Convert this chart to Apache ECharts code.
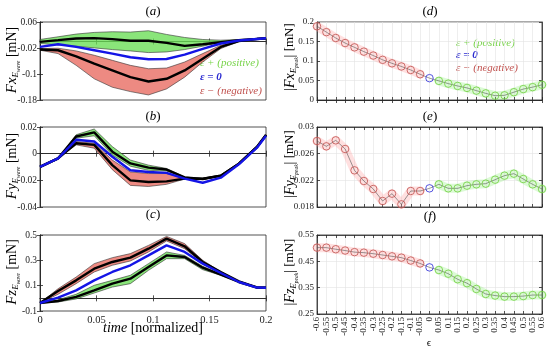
<!DOCTYPE html>
<html><head><meta charset="utf-8">
<script src="https://cdn.jsdelivr.net/npm/echarts@6/dist/echarts.min.js"></script>
<style>html,body{margin:0;padding:0;background:#fff}#c{width:550px;height:349px}</style>
</head><body><div id="c"></div>
<script>
// ---------- data ----------
const time = [0, 0.016, 0.032, 0.048, 0.064, 0.08, 0.096, 0.112, 0.128, 0.144, 0.16, 0.176, 0.192, 0.2];

// panel (a) Fx
const aPosUpper = [0.0062, 0.0145, 0.0228, 0.0279, 0.030, 0.029, 0.0331, 0.0217, 0.0124, 0.0062, 0.0041, 0.0062, 0.0090, 0.010];
const aPosMean  = [-0.001, 0.0041, 0.0093, 0.0103, 0.0072, 0.0021, 0.0021, -0.0041, -0.0134, -0.0083, -0.0021, 0.0041, 0.0080, 0.010];
const aPosLower = [-0.0062, -0.0103, -0.0145, -0.0197, -0.0248, -0.029, -0.0341, -0.0321, -0.0248, -0.0145, -0.0021, 0.0031, 0.0078, 0.010];
const aZero     = [-0.0166, -0.0083, -0.0166, -0.0269, -0.0372, -0.0486, -0.0548, -0.0538, -0.0403, -0.0228, -0.0062, 0.0031, 0.0078, 0.010];
const aNegUpper = [-0.0217, -0.0207, -0.029, -0.0424, -0.0579, -0.0734, -0.0838, -0.0817, -0.0631, -0.0372, -0.0114, 0.0021, 0.0078, 0.010];
const aNegMean  = [-0.0248, -0.0269, -0.0455, -0.0683, -0.089, -0.1097, -0.1231, -0.1148, -0.089, -0.0528, -0.0166, 0.001, 0.0078, 0.010];
const aNegLower = [-0.0269, -0.0372, -0.0734, -0.1148, -0.1407, -0.1541, -0.1645, -0.1459, -0.1097, -0.0631, -0.0217, 0.0, 0.0078, 0.010];

// panel (b) Fy
const bPosUpper = [-0.0099, -0.0035, 0.0142, 0.0185, 0.0053, -0.0048, -0.0086, -0.0111, -0.0175, -0.0187, -0.0162, -0.0073, 0.0053, 0.0142];
const bPosMean  = [-0.0099, -0.0035, 0.0129, 0.016, 0.0015, -0.0073, -0.0105, -0.0119, -0.0178, -0.019, -0.0165, -0.0075, 0.005, 0.014];
const bPosLower = [-0.0099, -0.0035, 0.0116, 0.0134, -0.001, -0.0094, -0.0125, -0.013, -0.018, -0.0192, -0.0168, -0.0078, 0.0048, 0.0138];
const bZero     = [-0.0099, -0.0035, 0.0104, 0.0091, -0.0023, -0.0124, -0.0137, -0.0144, -0.0187, -0.0218, -0.018, -0.008, 0.0045, 0.0135];
const bNegUpper = [-0.0099, -0.0035, 0.0091, 0.0078, -0.0048, -0.0137, -0.0149, -0.0149, -0.0185, -0.019, -0.0165, -0.0075, 0.005, 0.014];
const bNegMean  = [-0.0099, -0.0035, 0.0078, 0.0066, -0.0086, -0.020, -0.0213, -0.0208, -0.0187, -0.0188, -0.0165, -0.0075, 0.005, 0.014];
const bNegLower = [-0.0099, -0.0035, 0.0066, 0.0041, -0.012, -0.0238, -0.0246, -0.023, -0.019, -0.0192, -0.0168, -0.0078, 0.0048, 0.0138];

// panel (c) Fz
const cPosUpper = [-0.037, -0.011, 0.032, 0.103, 0.142, 0.182, 0.274, 0.366, 0.339, 0.253, 0.19, 0.129, 0.085, 0.083];
const cPosMean  = [-0.037, -0.021, 0.011, 0.063, 0.116, 0.155, 0.247, 0.339, 0.326, 0.242, 0.187, 0.129, 0.085, 0.083];
const cPosLower = [-0.037, -0.029, -0.005, 0.042, 0.089, 0.116, 0.221, 0.313, 0.313, 0.226, 0.182, 0.127, 0.084, 0.083];
const cZero     = [-0.037, 0.005, 0.063, 0.142, 0.208, 0.261, 0.339, 0.418, 0.366, 0.274, 0.2, 0.129, 0.085, 0.083];
const cNegUpper = [-0.037, 0.076, 0.168, 0.274, 0.321, 0.353, 0.418, 0.489, 0.432, 0.30, 0.21, 0.134, 0.086, 0.083];
const cNegMean  = [-0.037, 0.058, 0.142, 0.234, 0.287, 0.321, 0.392, 0.471, 0.411, 0.287, 0.208, 0.134, 0.086, 0.083];
const cNegLower = [-0.037, 0.032, 0.116, 0.208, 0.261, 0.295, 0.366, 0.453, 0.392, 0.279, 0.205, 0.132, 0.085, 0.083];

// right panels: epsilon categories and peak values
const eps = ['-0.6','-0.55','-0.5','-0.45','-0.4','-0.35','-0.3','-0.25','-0.2','-0.15','-0.1','-0.05','0',
             '0.05','0.1','0.15','0.2','0.25','0.3','0.35','0.4','0.45','0.5','0.55','0.6'];
const dPeak = [0.189, 0.174, 0.159, 0.146, 0.135, 0.124, 0.114, 0.103, 0.094, 0.086, 0.077, 0.066, 0.056,
               0.049, 0.042, 0.036, 0.031, 0.024, 0.017, 0.011, 0.012, 0.020, 0.028, 0.033, 0.039];
const ePeak = [0.0279, 0.0271, 0.0280, 0.0267, 0.0235, 0.0219, 0.0207, 0.0189, 0.0200, 0.0184, 0.0204, 0.0204, 0.0208,
               0.0214, 0.0208, 0.0208, 0.0212, 0.0214, 0.0215, 0.0221, 0.0227, 0.0230, 0.0222, 0.0214, 0.0207];
const fPeak = [0.502, 0.502, 0.496, 0.491, 0.485, 0.483, 0.479, 0.474, 0.469, 0.464, 0.453, 0.442, 0.427,
               0.417, 0.403, 0.382, 0.367, 0.345, 0.326, 0.320, 0.316, 0.316, 0.318, 0.322, 0.322];

// axis ticks
const leftTicks = [
  {min: -0.18, max: 0.06, interval: 0.08},
  {min: -0.04, max: 0.02, interval: 0.02},
  {min: -0.1, max: 0.5, interval: 0.2}
];
const rightTicks = [
  {min: 0, max: 0.2, interval: 0.05},
  {min: 0.018, max: 0.03, interval: 0.004},
  {min: 0.25, max: 0.55, interval: 0.1}
];

// ---------- styling ----------
const SERIF = 'Liberation Serif';
const AX = '#262626';
const GREEN_FILL = 'rgba(105,222,85,0.78)';
const RED_FILL = 'rgba(232,105,95,0.78)';
const BLUE = '#1414e6';
const PT_RED = '#c0504d', PT_GREEN = '#6fcf3c', PT_BLUE = '#2a2ad8';
const TXT_GREEN = '#78d44a', TXT_RED = '#c0504d', TXT_BLUE = '#2828d0';

const chart = echarts.init(document.getElementById('c'), null, {renderer: 'canvas'});

const leftGrids = [
  {left: 40, top: 22, width: 226, height: 78},
  {left: 40, top: 127, width: 226, height: 80},
  {left: 40, top: 235, width: 226, height: 76}
];
const rightGrids = [
  {left: 317, top: 22, width: 225, height: 78},
  {left: 317, top: 127, width: 225, height: 80},
  {left: 317, top: 235, width: 225, height: 79}
];
const grids = leftGrids.concat(rightGrids).map(g => Object.assign({show: true, borderColor: AX, borderWidth: 0.8, containLabel: false}, g));

const fmt = v => String(+(+v).toFixed(4));
const tickStyle = {show: true, inside: true, length: 3, lineStyle: {color: AX, width: 0.8}};
const lineStyleAx = {show: true, lineStyle: {color: AX, width: 0.8}};

const xAxes = [], yAxes = [];
for (let i = 0; i < 3; i++) {
  xAxes.push({
    type: 'value', gridIndex: i, min: 0, max: 0.2, interval: 0.05,
    axisLine: lineStyleAx, axisTick: tickStyle,
    axisLabel: {show: i === 2, color: '#222', fontFamily: SERIF, fontSize: 10.5, margin: 4, formatter: fmt},
    splitLine: {show: false}
  });
  yAxes.push(Object.assign({
    type: 'value', gridIndex: i,
    axisLine: lineStyleAx, axisTick: tickStyle,
    axisLabel: {color: '#222', fontFamily: SERIF, fontSize: 9.5, margin: 3, formatter: fmt},
    splitLine: {show: false}
  }, leftTicks[i]));
}
for (let i = 0; i < 3; i++) {
  xAxes.push({
    type: 'category', gridIndex: 3 + i, data: eps, boundaryGap: false,
    axisLine: lineStyleAx,
    axisTick: Object.assign({interval: 0}, tickStyle),
    axisLabel: {show: i === 2, interval: 0, rotate: 90, color: '#222', fontFamily: SERIF, fontSize: 9, margin: 3},
    splitLine: {show: true, interval: 0, lineStyle: {color: '#e2e2e2', width: 0.6}}
  });
  yAxes.push(Object.assign({
    type: 'value', gridIndex: 3 + i,
    axisLine: lineStyleAx, axisTick: tickStyle,
    axisLabel: {color: '#222', fontFamily: SERIF, fontSize: 9, margin: 3, formatter: fmt},
    splitLine: {show: true, lineStyle: {color: '#e2e2e2', width: 0.6}}
  }, rightTicks[i]));
}
// mirrored box ticks (top / right), no labels
for (let i = 0; i < 3; i++) {
  xAxes.push({type: 'value', gridIndex: i, position: 'top', min: 0, max: 0.2, interval: 0.05,
    axisLine: lineStyleAx, axisTick: tickStyle, axisLabel: {show: false}, splitLine: {show: false}});
  yAxes.push(Object.assign({type: 'value', gridIndex: i, position: 'right',
    axisLine: lineStyleAx, axisTick: tickStyle, axisLabel: {show: false}, splitLine: {show: false}}, leftTicks[i]));
}
for (let i = 0; i < 3; i++) {
  xAxes.push({type: 'category', gridIndex: 3 + i, position: 'top', data: eps, boundaryGap: false,
    axisLine: lineStyleAx, axisTick: Object.assign({interval: 0}, tickStyle), axisLabel: {show: false}, splitLine: {show: false}});
  yAxes.push(Object.assign({type: 'value', gridIndex: 3 + i, position: 'right',
    axisLine: lineStyleAx, axisTick: tickStyle, axisLabel: {show: false}, splitLine: {show: false}}, rightTicks[i]));
}

function band(idx, upper, lower, fill) {
  return {
    type: 'custom', xAxisIndex: idx, yAxisIndex: idx, silent: true, z: 1,
    data: [[time[0], upper[0]]],
    renderItem: function (params, api) {
      const pts = [];
      for (let k = 0; k < time.length; k++) pts.push(api.coord([time[k], upper[k]]));
      for (let k = time.length - 1; k >= 0; k--) pts.push(api.coord([time[k], lower[k]]));
      return {type: 'polygon', shape: {points: pts}, style: {fill: fill, stroke: '#333', lineWidth: 0.6}};
    }
  };
}
function tline(idx, arr, color, w, z) {
  return {
    type: 'line', xAxisIndex: idx, yAxisIndex: idx, silent: true, z: z || 3,
    data: time.map((t, k) => [t, arr[k]]), showSymbol: false, symbol: 'none',
    lineStyle: {color: color, width: w}, animation: false
  };
}

const series = [];
const leftSets = [
  [aPosUpper, aPosMean, aPosLower, aZero, aNegUpper, aNegMean, aNegLower],
  [bPosUpper, bPosMean, bPosLower, bZero, bNegUpper, bNegMean, bNegLower],
  [cPosUpper, cPosMean, cPosLower, cZero, cNegUpper, cNegMean, cNegLower]
];
leftSets.forEach((s, i) => {
  series.push(band(i, s[4], s[6], RED_FILL));
  series.push(band(i, s[0], s[2], GREEN_FILL));
  series.push(tline(i, s[5], '#000', 2.4, 3));
  series.push(tline(i, s[1], '#000', 2.4, 3));
  series.push(tline(i, s[3], BLUE, 2.4, 4));
});

const rightSets = [dPeak, ePeak, fPeak];
rightSets.forEach((arr, i) => {
  const idx = 3 + i;
  const neg = arr.map((v, k) => k <= 11 ? v : null);
  const pos = arr.map((v, k) => k >= 13 ? v : null);
  const zer = arr.map((v, k) => k === 12 ? v : null);
  const base = {xAxisIndex: idx, yAxisIndex: idx, silent: true, animation: false};
  series.push(Object.assign({type: 'line', data: neg, showSymbol: false, symbol: 'none', z: 1,
    lineStyle: {color: 'rgba(255,160,160,0.32)', width: 9, cap: 'round', join: 'round'}}, base));
  series.push(Object.assign({type: 'line', data: pos, showSymbol: false, symbol: 'none', z: 1,
    lineStyle: {color: 'rgba(140,240,120,0.30)', width: 9, cap: 'round', join: 'round'}}, base));
  series.push(Object.assign({type: 'line', data: arr, showSymbol: false, symbol: 'none', z: 2,
    lineStyle: {color: '#555', width: 0.6}}, base));
  [[neg, PT_RED], [zer, PT_BLUE], [pos, PT_GREEN]].forEach(([d, c]) => {
    series.push(Object.assign({type: 'scatter', data: d, symbol: 'circle', symbolSize: 7.5, z: 3,
      itemStyle: {color: 'rgba(0,0,0,0)', borderColor: c, borderWidth: 1}}, base));
  });
});

// ---------- math-like text helpers ----------
const mctx = document.createElement('canvas').getContext('2d');
function fontStr(p) { return (p.i ? 'italic ' : '') + (p.b ? 'bold ' : '') + p.s + 'px "' + SERIF + '"'; }
function tw(p) { mctx.font = fontStr(p); return mctx.measureText(p.t).width; }
function mtext(parts, x, y, rot, anchor, color) {
  const ws = parts.map(tw);
  const total = ws.reduce((a, b) => a + b, 0);
  let off = anchor === 'left' ? 0 : -total / 2;
  const children = parts.map((p, k) => {
    const el = {type: 'text', x: off, y: p.dy || 0, silent: true,
      style: {text: p.t, fontSize: p.s, fontFamily: SERIF, fontStyle: p.i ? 'italic' : 'normal',
        fontWeight: p.b ? 'bold' : 'normal', fill: p.c || color || '#000',
        textAlign: 'left', textVerticalAlign: 'middle', align: 'left', verticalAlign: 'middle'}};
    off += ws[k];
    return el;
  });
  return {type: 'group', x: x, y: y, rotation: rot ? Math.PI / 2 : 0, children: children, silent: true};
}

const graphics = [];
// panel titles
[['a', 153, 12], ['b', 153, 117], ['c', 153, 215], ['d', 430, 12], ['e', 430, 117], ['f', 430, 217]].forEach(([l, x, y]) => {
  graphics.push(mtext([{t: '(', s: 13}, {t: l, s: 13, i: true}, {t: ')', s: 13}], x, y, false));
});
// left y labels
[['x', 60], ['y', 166], ['z', 272]].forEach(([c, y]) => {
  graphics.push(mtext([
    {t: 'F', s: 15, i: true}, {t: c, s: 15, i: true},
    {t: 'E', s: 9, i: true, dy: 4}, {t: 'wave', s: 5.5, i: true, dy: 7},
    {t: ' [mN]', s: 14}
  ], 12, y, true));
});
// right y labels
[['x', 57], ['y', 164], ['z', 272]].forEach(([c, y]) => {
  graphics.push(mtext([
    {t: '|', s: 14}, {t: 'F', s: 14, i: true}, {t: c, s: 14, i: true},
    {t: 'E', s: 9, i: true, dy: 4}, {t: 'peak', s: 5.5, i: true, dy: 7},
    {t: '|', s: 14}, {t: ' [mN]', s: 13}
  ], 290, y, true));
});
// x labels
graphics.push(mtext([{t: 'time', s: 14, i: true}, {t: ' [normalized]', s: 14}], 153, 328, false));
graphics.push(mtext([{t: 'ϵ', s: 11}], 429, 343, false));
// legends
function legend(x, y0, dy) {
  graphics.push(mtext([{t: 'ε + (positive)', s: 11, i: true}], x, y0, false, 'left', TXT_GREEN));
  graphics.push(mtext([{t: 'ε = 0', s: 11, i: true, b: true}], x, y0 + dy, false, 'left', TXT_BLUE));
  graphics.push(mtext([{t: 'ε − (negative)', s: 11, i: true}], x, y0 + 2 * dy, false, 'left', TXT_RED));
}
legend(200, 63, 14);
legend(456, 43, 12.5);

chart.setOption({
  animation: false,
  backgroundColor: '#fff',
  grid: grids,
  xAxis: xAxes,
  yAxis: yAxes,
  series: series,
  graphic: graphics
});
</script>
</body></html>
